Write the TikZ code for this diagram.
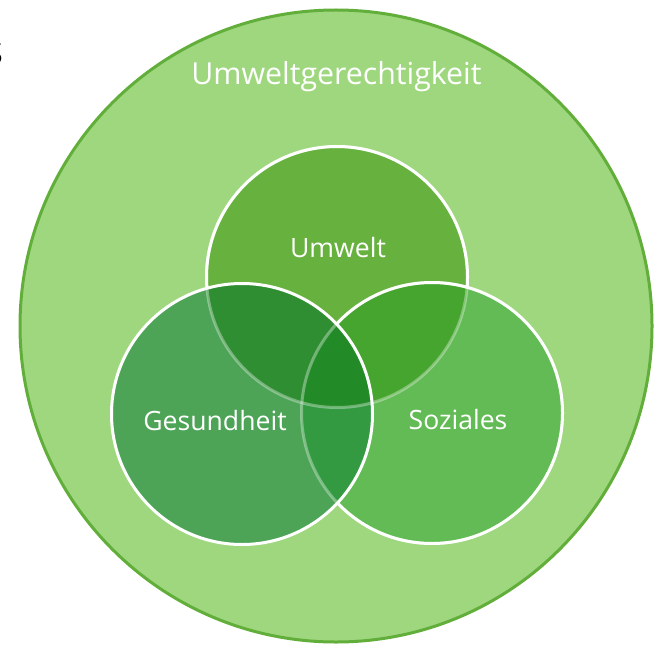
\documentclass[tikz,border=0pt]{standalone}
\usepackage{fontspec}
\setmainfont{Open Sans}
\definecolor{bigfill}{HTML}{9FD77F}
\definecolor{bigline}{HTML}{62AE3A}
\definecolor{ucol}{HTML}{67B23F}
\definecolor{gcol}{HTML}{4DA457}
\definecolor{scol}{HTML}{63BB55}
\definecolor{ugcol}{HTML}{2F8D32}
\definecolor{uscol}{HTML}{45A52E}
\definecolor{gscol}{HTML}{339A42}
\definecolor{allcol}{HTML}{228B27}
\tikzset{
  lbl/.style={text=white, font=\fontsize{26.6}{30}\selectfont, inner sep=0pt, anchor=base},
  ring/.style={draw=white, line width=3pt},
  faint/.style={draw=white, draw opacity=0.35, line width=3pt}
}
\begin{document}
\begin{tikzpicture}[x=1pt,y=-1pt]
\useasboundingbox (0,0) rectangle (655,647);
\coordinate (O) at (336,326);
\coordinate (U) at (337,277);
\coordinate (G) at (242,414);
\coordinate (S) at (432,413);
\def\R{130.5}
% outer circle
\fill[bigfill] (O) circle[radius=316];
\draw[bigline, line width=3pt] (O) circle[radius=316];
% single circles
\fill[ucol] (U) circle[radius=\R];
\fill[scol] (S) circle[radius=\R];
\fill[gcol] (G) circle[radius=\R];
% pairwise overlaps
\begin{scope}\clip (U) circle[radius=\R]; \fill[uscol] (S) circle[radius=\R];\end{scope}
\begin{scope}\clip (U) circle[radius=\R]; \fill[ugcol] (G) circle[radius=\R];\end{scope}
\begin{scope}\clip (G) circle[radius=\R]; \fill[gscol] (S) circle[radius=\R];\end{scope}
\begin{scope}\clip (U) circle[radius=\R]; \clip (G) circle[radius=\R]; \fill[allcol] (S) circle[radius=\R];\end{scope}
% faint (covered) borders
\draw[faint] (U) circle[radius=\R];
\draw[faint] (S) circle[radius=\R];
% bright borders
\draw[ring] (G) circle[radius=\R];
\begin{scope}[even odd rule]
  \clip (0,0) rectangle (655,647) (G) circle[radius=\R];
  \draw[ring] (S) circle[radius=\R];
  \clip (0,0) rectangle (655,647) (S) circle[radius=\R];
  \draw[ring] (U) circle[radius=\R];
\end{scope}
% labels
\node[lbl, font=\fontsize{30.3}{34}\selectfont] (tt) at (336.5,85) {Umweltgerechtigkeit};
\node[lbl] (tu) at (338,257) {Umwelt};
\node[lbl] (tg) at (215,430) {Gesundheit};
\node[lbl] (ts) at (458,429.5) {Soziales};
\node[anchor=base east, font=\fontsize{40}{44}\selectfont, inner sep=0pt] (cut) at (4,65) {s};
\end{tikzpicture}
\end{document}
